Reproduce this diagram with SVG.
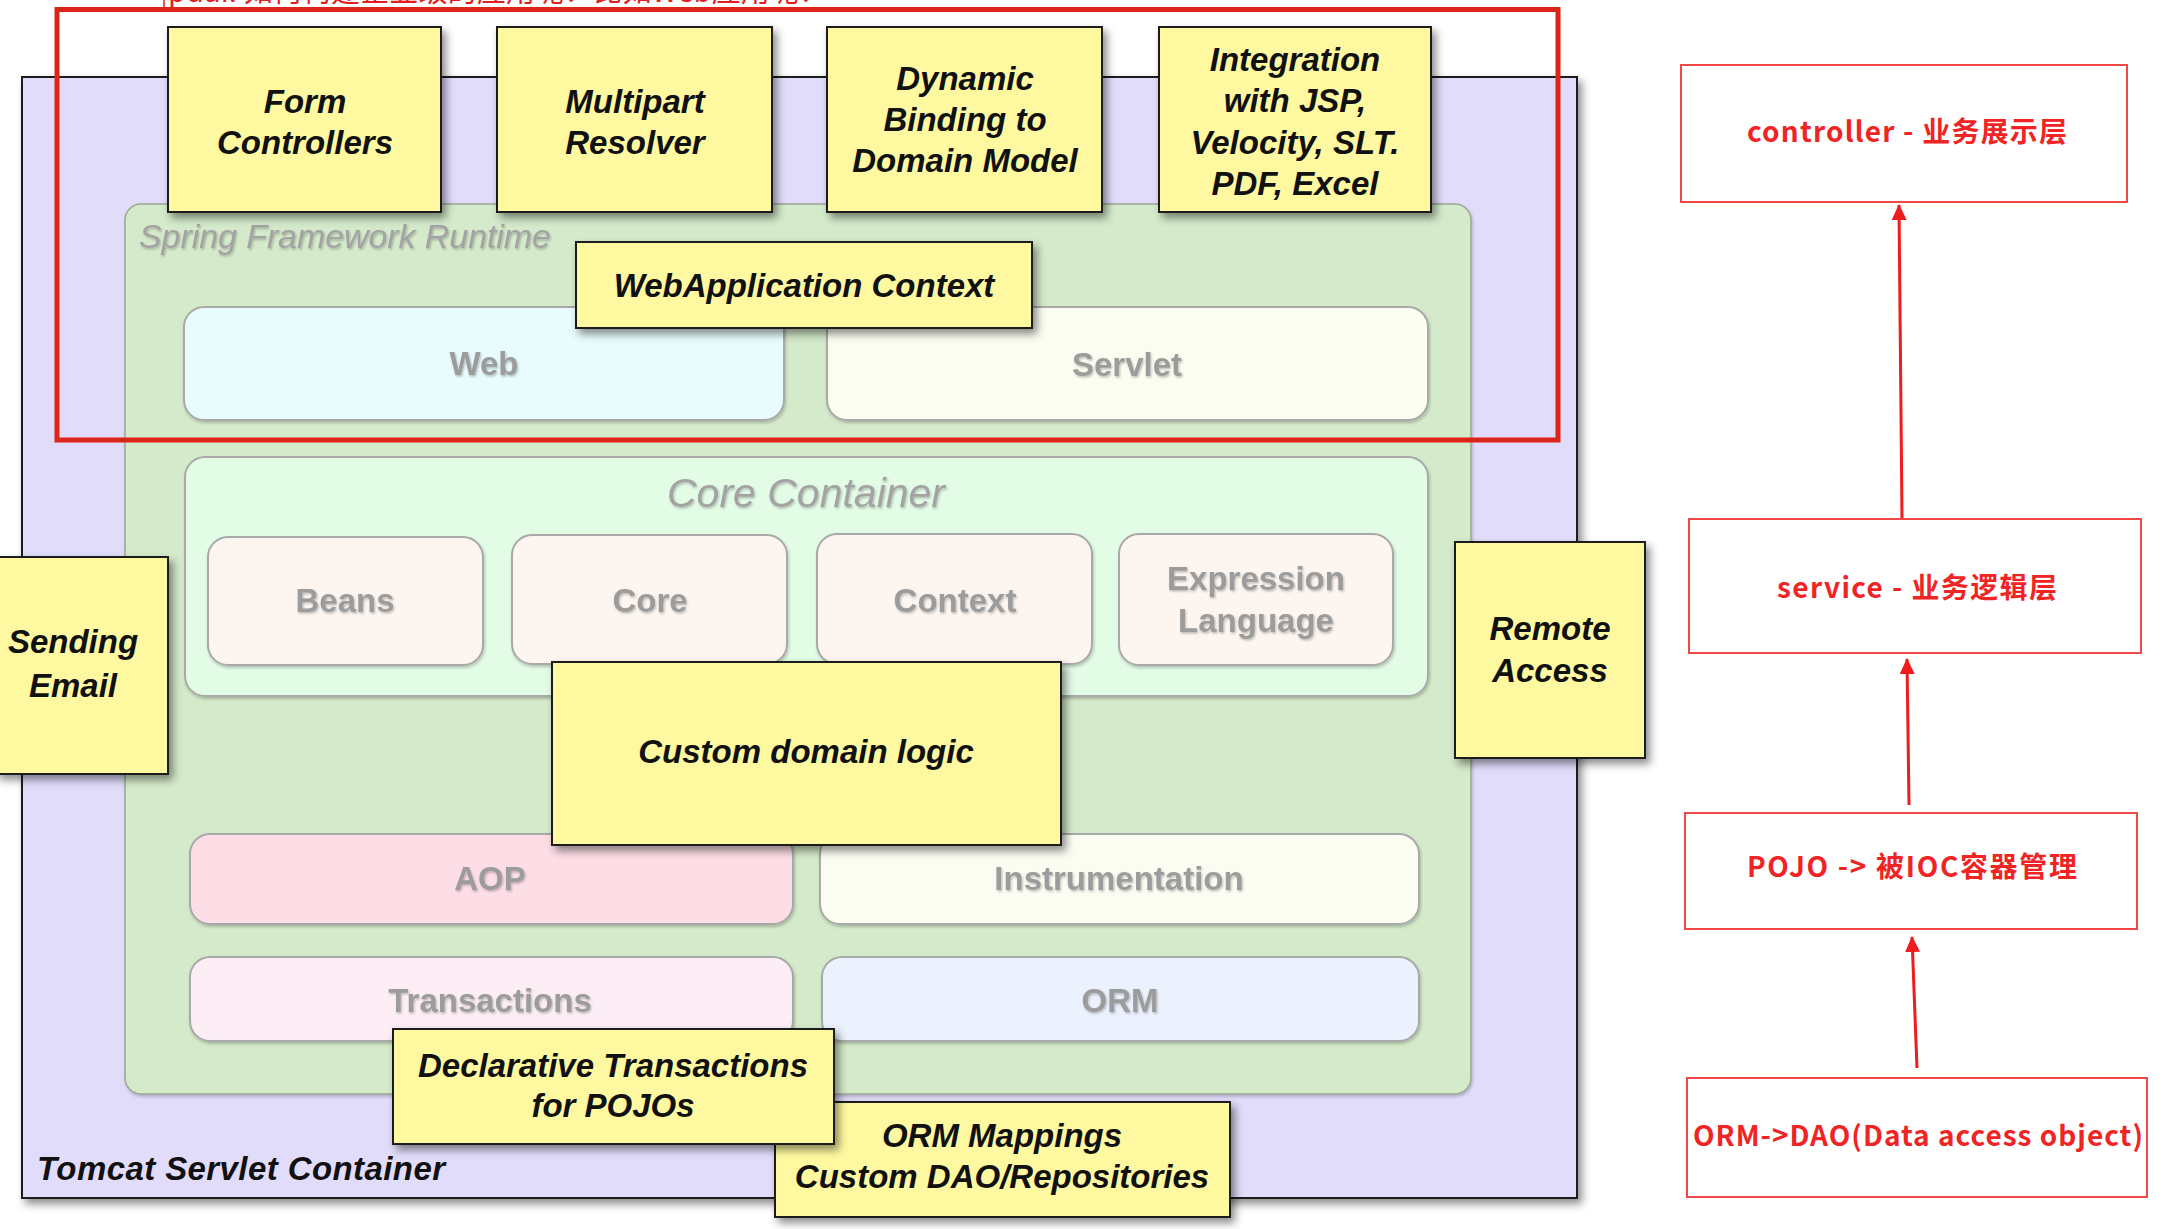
<svg xmlns="http://www.w3.org/2000/svg" width="2171" height="1229" viewBox="0 0 2171 1229">
<defs>
<filter id="sh" x="-10%" y="-10%" width="125%" height="130%">
<feDropShadow dx="4" dy="5" stdDeviation="4" flood-color="#000" flood-opacity="0.45"/>
</filter>
<filter id="shs" x="-5%" y="-5%" width="112%" height="115%">
<feDropShadow dx="1" dy="2" stdDeviation="1.5" flood-color="#000" flood-opacity="0.22"/>
</filter>
<filter id="ts" x="-5%" y="-20%" width="115%" height="150%">
<feDropShadow dx="1" dy="1.5" stdDeviation="1" flood-color="#000" flood-opacity="0.25"/>
</filter>
<marker id="ah" markerUnits="userSpaceOnUse" markerWidth="16" markerHeight="16" refX="15" refY="7.5" orient="auto">
<path d="M0,0 L16,7.5 L0,15 Z" fill="#ee1c1c"/>
</marker>
</defs>
<style>
.yb { fill:#fef9a0; stroke:#1a1a1a; stroke-width:2; }
.lab { font-family:"Liberation Sans", Arial, sans-serif; font-weight:bold; font-style:italic; font-size:33px; fill:#111; text-anchor:middle; }
.mod { font-family:"Liberation Sans", Arial, sans-serif; font-weight:bold; font-size:33px; fill:#9c9c9c; text-anchor:middle; }
.mb { stroke:#a9a9a9; stroke-width:2; }
.ttl { font-family:"Liberation Sans", Arial, sans-serif; font-style:italic; fill:#a3a3a3; }
.rb { fill:#ffffff; stroke:#f04848; stroke-width:2; }
.rt { font-family:"Noto Sans CJK SC", "Liberation Sans", sans-serif; font-weight:bold; font-size:28px; fill:#f02424; text-anchor:middle; }
.arr { stroke:#ee1c1c; stroke-width:3; fill:none; }
</style>

<rect width="2171" height="1229" fill="#ffffff"/>

<g id="tomcat">
<rect x="22" y="77" width="1555" height="1121" fill="#e1dcfa" stroke="#1e1e1e" stroke-width="2" filter="url(#sh)"/>
<text x="37" y="1180" font-family="Liberation Sans, Arial, sans-serif" font-weight="bold" font-style="italic" font-size="33" fill="#111" textLength="408">Tomcat Servlet Container</text>
</g>

<g id="spring-runtime">
<rect x="125" y="204" width="1346" height="890" rx="16" fill="#d4eaca" stroke="#9aa894" stroke-width="1.5" filter="url(#shs)"/>
<text class="ttl" x="139" y="248" font-size="34" textLength="412" filter="url(#ts)">Spring Framework Runtime</text>
</g>

<g id="web">
<rect class="mb" x="184" y="307" width="600" height="113" rx="20" fill="#e8fbfd" filter="url(#shs)"/>
<text class="mod" x="484" y="375" filter="url(#ts)">Web</text>
</g>
<g id="servlet">
<rect class="mb" x="827" y="307" width="601" height="113" rx="20" fill="#fafdf0" filter="url(#shs)"/>
<text class="mod" x="1127" y="376" filter="url(#ts)">Servlet</text>
</g>

<g id="core-container">
<rect class="mb" x="185" y="457" width="1243" height="239" rx="20" fill="#e3fce6" filter="url(#shs)"/>
<text class="ttl" x="806" y="507" font-size="41" text-anchor="middle" filter="url(#ts)">Core Container</text>
</g>
<g id="beans">
<rect class="mb" x="208" y="537" width="275" height="128" rx="20" fill="#fdf5ef" filter="url(#shs)"/>
<text class="mod" x="345" y="612" filter="url(#ts)">Beans</text>
</g>
<g id="core">
<rect class="mb" x="512" y="535" width="275" height="129" rx="20" fill="#fdf5ef" filter="url(#shs)"/>
<text class="mod" x="650" y="612" filter="url(#ts)">Core</text>
</g>
<g id="context">
<rect class="mb" x="817" y="534" width="275" height="130" rx="20" fill="#fdf5ef" filter="url(#shs)"/>
<text class="mod" x="955" y="612" filter="url(#ts)">Context</text>
</g>
<g id="expression-language">
<rect class="mb" x="1119" y="534" width="274" height="131" rx="20" fill="#fdf5ef" filter="url(#shs)"/>
<text class="mod" x="1256" y="590" filter="url(#ts)">Expression</text>
<text class="mod" x="1256" y="632" filter="url(#ts)">Language</text>
</g>

<g id="aop">
<rect class="mb" x="190" y="834" width="603" height="90" rx="20" fill="#fddde6" filter="url(#shs)"/>
<text class="mod" x="490" y="890" filter="url(#ts)">AOP</text>
</g>
<g id="instrumentation">
<rect class="mb" x="820" y="834" width="599" height="90" rx="20" fill="#fbfdf2" filter="url(#shs)"/>
<text class="mod" x="1119" y="890" filter="url(#ts)">Instrumentation</text>
</g>
<g id="transactions">
<rect class="mb" x="190" y="957" width="603" height="84" rx="20" fill="#fdeef6" filter="url(#shs)"/>
<text class="mod" x="490" y="1012" filter="url(#ts)">Transactions</text>
</g>
<g id="orm">
<rect class="mb" x="822" y="957" width="597" height="84" rx="20" fill="#ebf1fd" filter="url(#shs)"/>
<text class="mod" x="1120" y="1012" filter="url(#ts)">ORM</text>
</g>

<g id="form-controllers">
<rect class="yb" x="168" y="27" width="273" height="185" filter="url(#sh)"/>
<text class="lab" x="305" y="113">Form</text>
<text class="lab" x="305" y="154">Controllers</text>
</g>
<g id="multipart-resolver">
<rect class="yb" x="497" y="27" width="275" height="185" filter="url(#sh)"/>
<text class="lab" x="635" y="113">Multipart</text>
<text class="lab" x="635" y="154">Resolver</text>
</g>
<g id="dynamic-binding">
<rect class="yb" x="827" y="27" width="275" height="185" filter="url(#sh)"/>
<text class="lab" x="965" y="90">Dynamic</text>
<text class="lab" x="965" y="131">Binding to</text>
<text class="lab" x="965" y="172">Domain Model</text>
</g>
<g id="integration">
<rect class="yb" x="1159" y="27" width="272" height="185" filter="url(#sh)"/>
<text class="lab" x="1295" y="71">Integration</text>
<text class="lab" x="1295" y="112">with JSP,</text>
<text class="lab" x="1295" y="154">Velocity, SLT.</text>
<text class="lab" x="1295" y="195">PDF, Excel</text>
</g>

<g id="webapplication-context">
<rect class="yb" x="576" y="242" width="456" height="86" filter="url(#sh)"/>
<text class="lab" x="804" y="297">WebApplication Context</text>
</g>

<g id="custom-domain-logic">
<rect class="yb" x="552" y="662" width="509" height="183" filter="url(#sh)"/>
<text class="lab" x="806" y="763">Custom domain logic</text>
</g>

<g id="sending-email">
<rect class="yb" x="-4" y="557" width="172" height="217" filter="url(#sh)"/>
<text class="lab" x="73" y="653">Sending</text>
<text class="lab" x="73" y="697">Email</text>
</g>

<g id="remote-access">
<rect class="yb" x="1455" y="542" width="190" height="216" filter="url(#sh)"/>
<text class="lab" x="1550" y="640">Remote</text>
<text class="lab" x="1550" y="682">Access</text>
</g>

<g id="orm-mappings">
<rect class="yb" x="775" y="1102" width="455" height="115" filter="url(#sh)"/>
<text class="lab" x="1002" y="1147">ORM Mappings</text>
<text class="lab" x="1002" y="1188">Custom DAO/Repositories</text>
</g>

<g id="declarative-transactions">
<rect class="yb" x="393" y="1029" width="441" height="115" filter="url(#sh)"/>
<text class="lab" x="613" y="1077">Declarative Transactions</text>
<text class="lab" x="613" y="1117">for POJOs</text>
</g>

<g id="web-layer-highlight">
<rect x="57" y="9.5" width="1501" height="430.5" fill="none" stroke="#dd2418" stroke-width="5"/>
<line x1="164" y1="0" x2="164" y2="8" stroke="#dd2418" stroke-width="1.5"/>
<text x="168" y="1.5" font-family="Noto Sans CJK SC, Liberation Sans, sans-serif" font-size="29" fill="#e02020" textLength="660">pdai: 如何构建企业级的应用呢？比如Web应用呢？</text>
</g>

<g id="layer-controller">
<rect class="rb" x="1681" y="65" width="446" height="137"/>
<text class="rt" x="1907" y="142" textLength="320">controller - 业务展示层</text>
</g>
<g id="layer-service">
<rect class="rb" x="1689" y="519" width="452" height="134"/>
<text class="rt" x="1917" y="598" textLength="280">service - 业务逻辑层</text>
</g>
<g id="layer-pojo">
<rect class="rb" x="1685" y="813" width="452" height="116"/>
<text class="rt" x="1912" y="877" textLength="330">POJO -&gt; 被IOC容器管理</text>
</g>
<g id="layer-orm">
<rect class="rb" x="1687" y="1078" width="460" height="119"/>
<text class="rt" x="1918" y="1146" textLength="450">ORM-&gt;DAO(Data access object)</text>
</g>

<g id="connectors">
<line class="arr" x1="1902" y1="518" x2="1899" y2="205" marker-end="url(#ah)"/>
<line class="arr" x1="1909" y1="805" x2="1907" y2="659" marker-end="url(#ah)"/>
<line class="arr" x1="1917" y1="1068" x2="1912" y2="937" marker-end="url(#ah)"/>
</g>
</svg>
